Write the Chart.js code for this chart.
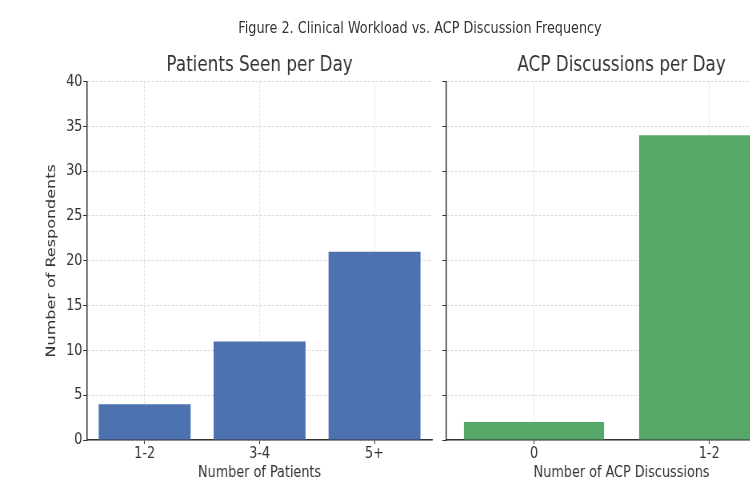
<!DOCTYPE html>
<html>
<head>
<meta charset="utf-8">
<script src="https://cdn.jsdelivr.net/npm/chart.js@4"></script>
<style>
  body { margin: 0; width: 750px; height: 496px; overflow: hidden; background: #fff; }
  #fig { position: absolute; left: 0; top: 0; width: 1000px; height: 496px; transform: scaleX(0.8); transform-origin: 0 0; }
  #suptitle { position: absolute; left: 0; top: 18px; width: 1050px; text-align: center; font: 16px 'DejaVu Sans'; line-height: 19px; color: #333; }
  .box { position: absolute; top: 0; height: 496px; }
</style>
</head>
<body>
<div id="fig">
  <div id="suptitle">Figure 2. Clinical Workload vs. ACP Discussion Frequency</div>
  <div class="box" style="left:0;width:550px"><canvas id="left"></canvas></div>
  <div class="box" style="left:550px;width:452px"><canvas id="right"></canvas></div>
</div>
<script>
// data
const patientCats = ['1-2', '3-4', '5+']
const patientCounts = [4, 11, 21]
const acpCats = ['0', '1-2']
const acpCounts = [2, 34]
const yMin = 0
const yMax = 40
const yStep = 5

const FONT = 'DejaVu Sans'
const INK = '#333'
const GRID = '#d6d6d6'

Chart.defaults.font.family = FONT
Chart.defaults.color = INK

function makeOptions(o) {
  return {
    responsive: true,
    maintainAspectRatio: false,
    animation: false,
    layout: { padding: { left: 0, right: o.padRight, top: 0, bottom: 0 } },
    plugins: {
      legend: { display: false },
      tooltip: { enabled: false },
      title: {
        display: true, text: o.title, fullSize: false,
        font: { size: 21, weight: 'normal' }, color: INK,
        padding: { top: 53, bottom: 3.4 }
      }
    },
    scales: {
      x: {
        offset: true,
        grid: { offset: false, color: GRID, tickColor: INK, tickBorderDash: [], tickLength: 4, lineWidth: 1 },
        border: { display: true, color: INK, width: 1.5, dash: [2, 2] },
        ticks: { font: { size: 16 }, color: INK, padding: 0, maxRotation: 0 },
        title: { display: true, text: o.xTitle, font: { size: 16 }, color: INK, padding: { top: 0, bottom: 14 } },
        afterFit: s => { s.height = 56 }
      },
      y: {
        min: yMin, max: yMax,
        grid: { color: GRID, tickColor: INK, tickBorderDash: [], tickLength: 5, lineWidth: 1 },
        border: { display: true, color: INK, width: 1.5, dash: [2.5, 2.5] },
        ticks: { display: o.showY, stepSize: yStep, font: { size: 16 }, color: INK, padding: 1 },
        title: { display: o.showY, text: 'Number of Respondents', font: { size: 16 }, color: INK, padding: { top: 55, bottom: 0 } },
        afterFit: s => { s.width = o.yWidth }
      }
    }
  }
}

new Chart(document.getElementById('left'), {
  type: 'bar',
  data: {
    labels: patientCats,
    datasets: [{ data: patientCounts, backgroundColor: '#4c72b0', categoryPercentage: 0.8, barPercentage: 1 }]
  },
  options: makeOptions({ title: 'Patients Seen per Day', xTitle: 'Number of Patients', showY: true, yWidth: 109, padRight: 10 })
})

new Chart(document.getElementById('right'), {
  type: 'bar',
  data: {
    labels: acpCats,
    datasets: [{ data: acpCounts, backgroundColor: '#55a868', categoryPercentage: 0.8, barPercentage: 1 }]
  },
  options: makeOptions({ title: 'ACP Discussions per Day', xTitle: 'Number of ACP Discussions', showY: false, yWidth: 8, padRight: 6 })
})
</script>
</body>
</html>
